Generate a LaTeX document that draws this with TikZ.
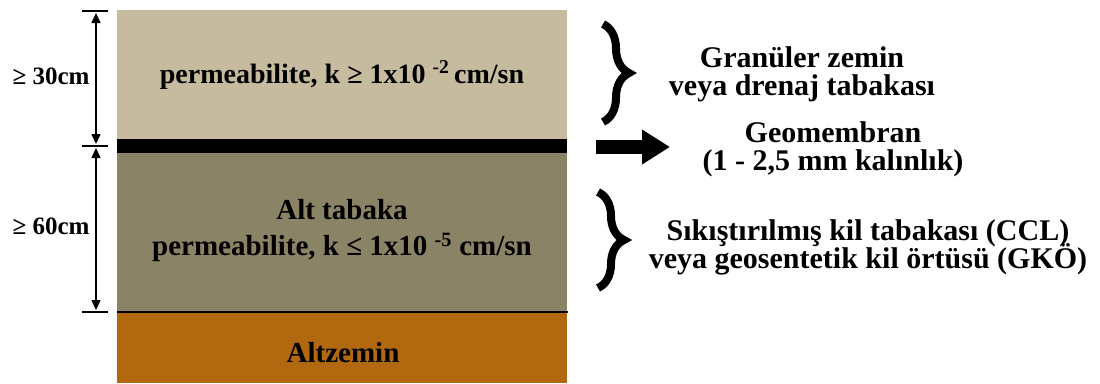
\documentclass[tikz,border=0pt]{standalone}
\usepackage{fontspec}
\setmainfont{Liberation Serif}
\usetikzlibrary{arrows.meta,decorations.pathreplacing}
\definecolor{drainlayer}{RGB}{198,187,158}
\definecolor{barrierlayer}{RGB}{139,131,101}
\definecolor{subgrade}{RGB}{178,104,14}

\begin{document}
\begin{tikzpicture}[x=1pt,y=-1pt,
  lbl/.style={font=\bfseries\fontsize{29}{36}\selectfont, align=center, inner sep=0pt},
  dimlbl/.style={font=\bfseries\fontsize{25}{28}\selectfont, inner sep=0pt},
  note/.style={font=\bfseries\fontsize{30}{30}\selectfont, anchor=base, inner sep=0pt},
  dimtick/.style={line width=1.5pt},
  dimline/.style={line width=1.6pt, {Triangle[length=10pt,width=9pt]}-{Triangle[length=10pt,width=9pt]}, shorten <=2pt, shorten >=2pt},
  curly/.style={decorate, decoration={brace, amplitude=26pt, aspect=0.5}, line width=8pt},
  bigarrow/.style={line width=14pt, -{Triangle[length=28pt,width=33pt]}}
]
\useasboundingbox[fill=white] (0,0) rectangle (1100,383);

% soil layers
\fill[drainlayer] (117,10) rectangle (567,139);
\fill[black] (117,139) rectangle (567,153);
\fill[barrierlayer] (117,153) rectangle (567,312);
\fill[subgrade] (117,312) rectangle (567,383);
\draw[line width=1.5pt] (117,312) -- (568,312);

% layer labels
\node[lbl, font=\bfseries\fontsize{28}{34}\selectfont] (toplbl) at (342,75) {permeabilite, k ≥ 1x10 \textsuperscript{-2}\,cm/sn};
\node[lbl] (midlbl) at (342,231) {Alt tabaka\\permeabilite, k ≤ 1x10 \textsuperscript{-5} cm/sn};
\node[lbl] (sublbl) at (343,353) {Altzemin};

% thickness dimensions
\coordinate (d1) at (96,11);
\coordinate (d2) at (96,146);
\coordinate (d3) at (96,312);
\foreach \c in {d1,d2,d3}
  \draw[dimtick] ([xshift=-14pt]\c) -- ([xshift=12pt]\c);
\draw[dimline] (d1) -- (d2);
\draw[dimline] (d2) -- (d3);
\node[dimlbl] (h1) at (51,76) {≥ 30cm};
\node[dimlbl] (h2) at (51,226) {≥ 60cm};

% braces and arrow
\coordinate (b1a) at (603,24);
\coordinate (b1b) at (603,122);
\draw[curly] (b1a) -- (b1b);
\coordinate (b2a) at (598,192);
\coordinate (b2b) at (598,288);
\draw[curly] (b2a) -- (b2b);
\coordinate (ar1) at (596,147);
\coordinate (ar2) at (670,147);
\draw[bigarrow] (ar1) -- (ar2);

% descriptions, one node per line
\node[note] (gran1) at (802,67) {Granüler zemin};
\node[note] (gran2) at (802,95) {veya drenaj tabakası};
\node[note] (geo1)  at (833,142) {Geomembran};
\node[note] (geo2)  at (833,170) {(1 - 2,5 mm kalınlık)};
\node[note] (ccl1)  at (868,240) {Sıkıştırılmış kil tabakası (CCL)};
\node[note] (ccl2)  at (868,268) {veya geosentetik kil örtüsü (GKÖ)};
\end{tikzpicture}
\end{document}
